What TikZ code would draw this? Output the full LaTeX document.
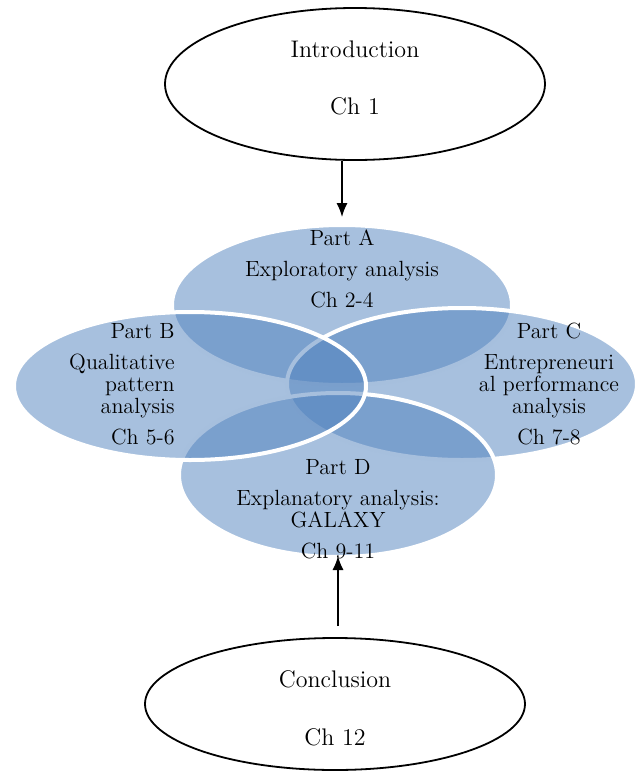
\documentclass[tikz,border=0pt]{standalone}
\usetikzlibrary{shapes.geometric, arrows.meta}
\definecolor{partblue}{RGB}{79,129,189}

\begin{document}
\begin{tikzpicture}[x=0.5pt, y=-0.5pt,
  outer/.style={draw, line width=0.9pt, ellipse, inner sep=0pt},
  outertext/.style={inner sep=0pt, align=center, font=\fontsize{12}{12}\selectfont},
  part/.style={ellipse, fill=partblue, fill opacity=0.5, draw=white, draw opacity=1, line width=2pt, inner sep=0pt},
  parttext/.style={inner sep=0pt, font=\fontsize{11}{11}\selectfont},
  link/.style={-{Latex[length=7pt, width=5.5pt]}, line width=0.7pt}]
\useasboundingbox (0,0) rectangle (634,772);

% introduction and conclusion
\node[outer, minimum width=190pt, minimum height=76pt] (intro) at (355,84) {};
\node[outertext] (introtext) at (355,78) {Introduction\\[16.5pt]Ch 1};
\node[outer, minimum width=190pt, minimum height=66pt] (concl) at (335,704) {};
\node[outertext] (concltext) at (335,708) {Conclusion\\[17pt]Ch 12};

% the four parts (A, C, D, then B on top)
\node[part, minimum width=170pt, minimum height=80pt] (partA) at (342,305) {};
\node[part, minimum width=175pt, minimum height=76pt] (partC) at (462,384) {};
\node[part, minimum width=159pt, minimum height=82pt] (partD) at (338,475) {};
\node[part, minimum width=176pt, minimum height=74pt] (partB) at (190,386) {};

\node[parttext, align=center] (textA) at (342,269) {Part A\\[4.5pt]Exploratory analysis\\[4.5pt]Ch 2-4};
\node[parttext, align=right, anchor=east] (textB) at (175,384) {Part B\\[4.5pt]Qualitative\\pattern\\analysis\\[4.5pt]Ch 5-6};
\node[parttext, align=center] (textC) at (549,384) {Part C\\[4.5pt]Entrepreneuri\\al performance\\analysis\\[4.5pt]Ch 7-8};
\node[parttext, align=center] (textD) at (338,509) {Part D\\[4.5pt]Explanatory analysis:\\GALAXY\\[4.5pt]Ch 9-11};

\draw[link, shorten >=3pt] (intro.south -| partA.north) -- (partA.north);
\draw[link, shorten <=5.5pt, shorten >=-1.5pt] (concl.north -| partD.south) -- (partD.south);
\end{tikzpicture}
\end{document}
